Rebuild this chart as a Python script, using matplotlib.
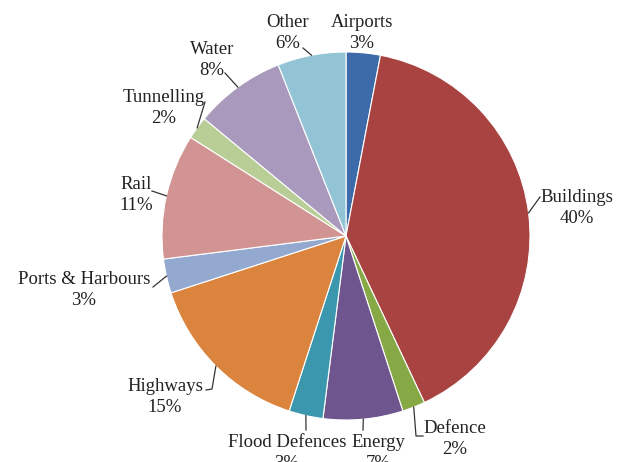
import matplotlib
matplotlib.use("Agg")
import numpy as np
import matplotlib.pyplot as plt

W, H = 620, 462

# market sectors, clockwise from 12 o'clock
sectors = ["Airports", "Buildings", "Defence", "Energy", "Flood Defences", "Highways",
           "Ports & Harbours", "Rail", "Tunnelling", "Water", "Other"]
shares = [3, 40, 2, 7, 3, 15, 3, 11, 2, 8, 6]
colors = ["#3D6AA8", "#A84341", "#86A845", "#6E558E", "#3A97AE", "#DB843D",
          "#93A9D0", "#D29493", "#B9CE96", "#A99ABD", "#92C4D5"]

# label block centres, pixels from the top-left corner
label_pos = {
    "Airports": (362, 33),
    "Other": (288, 33),
    "Water": (212, 60),
    "Tunnelling": (164, 108),
    "Rail": (136, 195),
    "Ports & Harbours": (84, 290),
    "Highways": (165, 397),
    "Flood Defences": (287, 453),
    "Energy": (378, 453),
    "Defence": (455, 439),
    "Buildings": (577, 208),
}
# leader lines start near the label, end on the slice edge
leader_from = {
    "Other": [(303, 48)],
    "Water": [(225, 73)],
    "Tunnelling": [(205, 102)],
    "Rail": [(152, 191)],
    "Ports & Harbours": [(153, 287)],
    "Highways": [(206, 390), (212, 389)],
    "Flood Defences": [(306, 430)],
    "Energy": [(363, 430)],
    "Defence": [(423, 436), (416, 436)],
    "Buildings": [(540, 197)],
}

fig = plt.figure(figsize=(W / 100, H / 100), dpi=100)
ax = fig.add_axes([0, 0, 1, 1])

cx, cy, r = 346, H - 236, 184
wedges, _ = ax.pie(shares, colors=colors, startangle=90, counterclock=False,
                   center=(cx, cy), radius=r, frame=True,
                   wedgeprops=dict(edgecolor="white", linewidth=0.8))
ax.set_xlim(0, W)
ax.set_ylim(0, H)
ax.axis("off")

for name, pct, w in zip(sectors, shares, wedges):
    lx, ly = label_pos[name]
    ax.text(lx, H - ly, f"{name}\n{pct}%", ha="center", va="center",
            fontsize=13.5, family="Liberation Serif", linespacing=1.3,
            color="#222222")
    if name in leader_from:
        mid = np.radians((w.theta1 + w.theta2) / 2)
        pts = [(x, H - y) for x, y in leader_from[name]]
        pts.append((cx + r * np.cos(mid), cy + r * np.sin(mid)))
        xs, ys = zip(*pts)
        ax.plot(xs, ys, color="#333333", lw=0.9)

fig.savefig("out.png", dpi=100)
